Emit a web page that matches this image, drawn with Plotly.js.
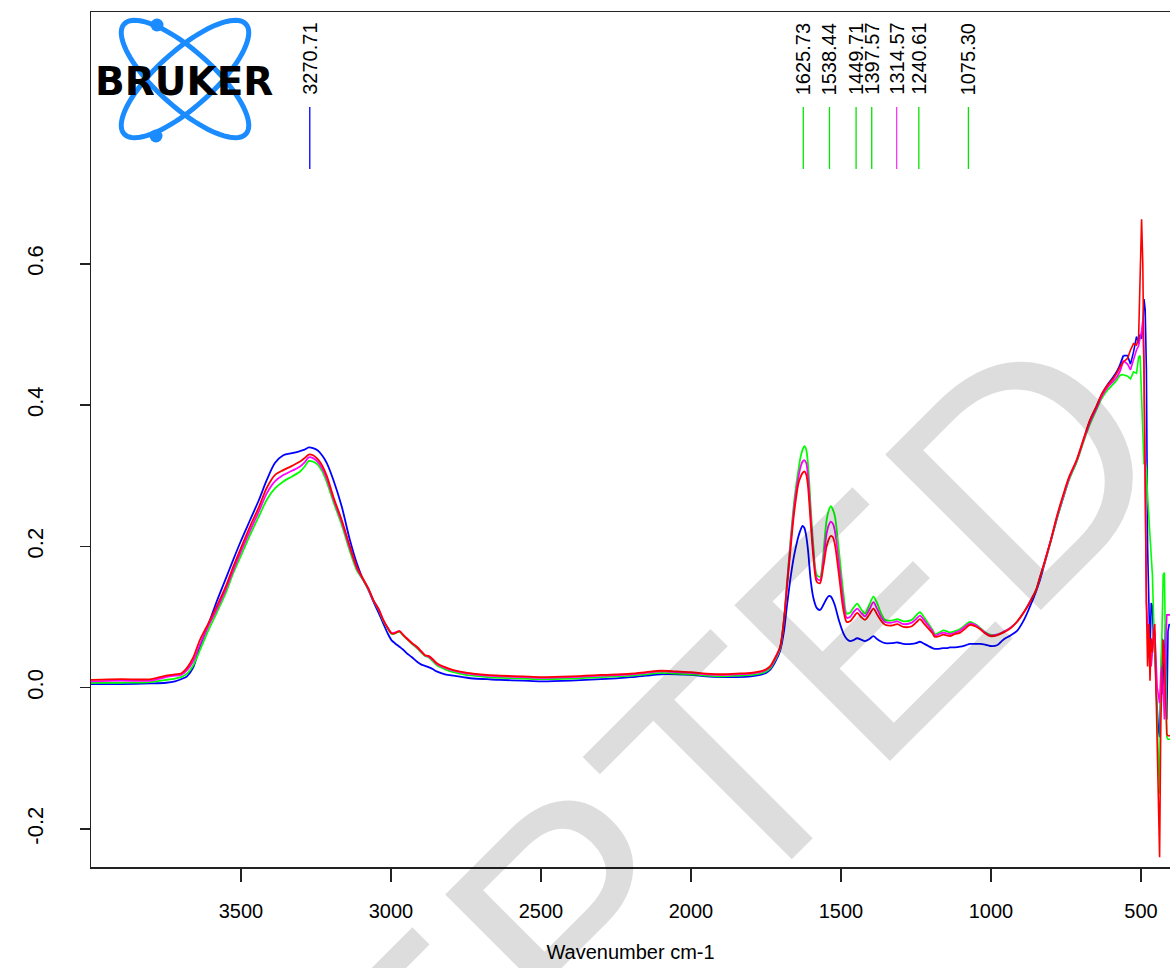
<!DOCTYPE html>
<html>
<head>
<meta charset="utf-8">
<script src="https://cdn.plot.ly/plotly-3.0.1.min.js"></script>
<style>html,body{margin:0;padding:0;background:#fff;}#chart{width:1170px;height:968px;}</style>
</head>
<body>
<div id="chart"></div>
<script>
// ---------- data ----------
const wnMain = [4000,3900,3800,3750,3720,3700,3680,3660,3637,3610,3581,3550,3526,3500,3470,3440,3414,3387,3359,3330,3303,3288,3274,3260,3245,3230,3214,3192,3164,3137,3114,3097,3075,3059,3040,3026,3010,2998,2987,2972,2960,2948,2930,2914,2900,2887,2875,2860,2848,2820,2792,2760,2726,2680,2637,2560,2500,2400,2300,2200,2150,2100,2050,2000,1950,1900,1850,1800,1770,1750,1735,1720,1703,1690,1681,1670,1659,1650,1642,1635,1628,1622,1616,1610,1601,1592,1581,1570,1559,1548,1540,1534,1527,1520,1506,1492,1481,1470,1460,1446,1433,1420,1405,1392,1380,1365,1353,1331,1312,1292,1264,1250,1237,1222,1209,1195,1187,1173,1159,1148,1137,1120,1103,1085,1070,1053,1037,1020,1003,980,959,935,914,890,870,850,837,820,803,780,760,740,714,690,670,648,630,610,592,580,570,559];

const blueMain = [0.005,0.005,0.006,0.007,0.009,0.012,0.016,0.028,0.058,0.088,0.122,0.155,0.181,0.208,0.237,0.266,0.294,0.318,0.329,0.332,0.335,0.337,0.340,0.339,0.336,0.329,0.318,0.294,0.256,0.209,0.176,0.157,0.138,0.122,0.105,0.091,0.076,0.067,0.063,0.058,0.054,0.049,0.043,0.037,0.033,0.031,0.029,0.026,0.023,0.019,0.017,0.015,0.013,0.012,0.011,0.010,0.009,0.010,0.012,0.015,0.017,0.019,0.019,0.018,0.016,0.015,0.015,0.016,0.018,0.021,0.026,0.036,0.052,0.080,0.113,0.150,0.181,0.200,0.214,0.223,0.229,0.226,0.215,0.195,0.152,0.127,0.113,0.110,0.117,0.126,0.130,0.129,0.124,0.116,0.094,0.077,0.069,0.066,0.067,0.070,0.068,0.066,0.069,0.073,0.069,0.065,0.063,0.063,0.064,0.062,0.062,0.063,0.065,0.062,0.059,0.056,0.055,0.055,0.056,0.056,0.057,0.057,0.058,0.060,0.062,0.062,0.062,0.061,0.059,0.060,0.068,0.074,0.080,0.096,0.115,0.136,0.152,0.178,0.204,0.240,0.268,0.295,0.321,0.352,0.378,0.398,0.416,0.430,0.440,0.448,0.457,0.470];

const greenMain = [0.007,0.007,0.008,0.011,0.013,0.015,0.020,0.031,0.053,0.080,0.106,0.135,0.162,0.187,0.216,0.243,0.266,0.282,0.292,0.299,0.306,0.313,0.321,0.320,0.316,0.307,0.291,0.263,0.230,0.193,0.166,0.155,0.139,0.124,0.109,0.095,0.083,0.076,0.077,0.079,0.074,0.069,0.062,0.056,0.050,0.045,0.043,0.037,0.032,0.026,0.022,0.019,0.017,0.015,0.014,0.013,0.012,0.013,0.015,0.017,0.019,0.021,0.020,0.019,0.017,0.016,0.017,0.018,0.020,0.023,0.028,0.039,0.055,0.098,0.143,0.200,0.252,0.285,0.308,0.326,0.337,0.342,0.337,0.316,0.256,0.200,0.160,0.157,0.190,0.237,0.252,0.257,0.252,0.242,0.190,0.134,0.105,0.106,0.112,0.119,0.111,0.105,0.118,0.129,0.120,0.104,0.096,0.095,0.097,0.094,0.096,0.102,0.107,0.099,0.091,0.082,0.076,0.078,0.081,0.080,0.078,0.080,0.083,0.089,0.093,0.090,0.085,0.079,0.075,0.075,0.079,0.085,0.093,0.107,0.122,0.138,0.156,0.179,0.204,0.240,0.268,0.294,0.320,0.350,0.373,0.394,0.410,0.422,0.430,0.436,0.442,0.443];

const magentaMain = [0.009,0.010,0.010,0.015,0.017,0.018,0.025,0.037,0.061,0.086,0.111,0.140,0.166,0.193,0.222,0.250,0.275,0.292,0.301,0.307,0.313,0.319,0.326,0.325,0.320,0.311,0.296,0.267,0.234,0.197,0.169,0.156,0.140,0.124,0.110,0.096,0.084,0.077,0.078,0.080,0.075,0.070,0.063,0.057,0.051,0.046,0.044,0.039,0.034,0.028,0.024,0.021,0.019,0.017,0.016,0.015,0.014,0.015,0.017,0.019,0.021,0.023,0.022,0.021,0.019,0.018,0.019,0.020,0.022,0.025,0.030,0.041,0.057,0.097,0.141,0.195,0.245,0.277,0.298,0.312,0.320,0.322,0.318,0.300,0.244,0.192,0.155,0.152,0.180,0.218,0.231,0.235,0.232,0.221,0.173,0.122,0.099,0.100,0.106,0.112,0.106,0.101,0.111,0.121,0.112,0.099,0.093,0.092,0.094,0.090,0.092,0.097,0.102,0.095,0.088,0.080,0.074,0.076,0.078,0.077,0.076,0.078,0.081,0.087,0.091,0.089,0.084,0.078,0.074,0.075,0.079,0.085,0.093,0.107,0.122,0.138,0.156,0.180,0.205,0.242,0.270,0.296,0.322,0.352,0.376,0.396,0.413,0.426,0.434,0.440,0.448,0.463];

const redMain = [0.011,0.012,0.012,0.017,0.019,0.020,0.028,0.042,0.0675,0.090,0.115,0.144,0.171,0.198,0.228,0.256,0.283,0.301,0.308,0.314,0.320,0.325,0.330,0.329,0.324,0.315,0.300,0.270,0.237,0.200,0.171,0.157,0.140,0.124,0.110,0.096,0.084,0.077,0.077,0.080,0.075,0.070,0.063,0.058,0.052,0.046,0.045,0.040,0.035,0.029,0.025,0.022,0.020,0.018,0.017,0.016,0.015,0.016,0.018,0.020,0.022,0.024,0.023,0.022,0.020,0.019,0.020,0.021,0.023,0.026,0.031,0.042,0.058,0.095,0.138,0.188,0.237,0.268,0.289,0.298,0.304,0.306,0.302,0.285,0.233,0.185,0.150,0.148,0.171,0.200,0.211,0.215,0.213,0.202,0.157,0.110,0.093,0.094,0.099,0.106,0.100,0.096,0.104,0.112,0.104,0.094,0.089,0.088,0.090,0.086,0.087,0.092,0.097,0.090,0.084,0.077,0.072,0.073,0.075,0.074,0.073,0.076,0.078,0.084,0.089,0.087,0.083,0.077,0.073,0.074,0.078,0.084,0.093,0.107,0.121,0.138,0.156,0.180,0.205,0.243,0.272,0.298,0.323,0.354,0.379,0.399,0.416,0.429,0.438,0.446,0.454,0.461];

// low-wavenumber (noisy) end of the spectra
const wnEdge = [559,545,535,525,515,508,503,498,494,490,486,482,478,474,470,466,462,458,454,450,446,442,438,434,430,426,422,418,414,410,406,403];
const blueEdge = [0.470,0.470,0.458,0.475,0.497,0.487,0.500,0.494,0.510,0.550,0.535,0.450,0.200,0.095,0.050,0.120,0.115,0.065,0.055,0.000,-0.030,-0.060,-0.070,0.020,0.070,-0.010,0.030,0.090,-0.045,0.080,0.090,0.088];
const greenEdge = [0.443,0.441,0.437,0.447,0.445,0.468,0.470,0.400,0.355,0.316,0.320,0.310,0.270,0.240,0.210,0.187,0.160,0.100,0.060,0.020,-0.050,-0.100,-0.150,0.000,0.090,0.160,0.163,0.050,-0.070,-0.073,-0.073,-0.073];
const magentaEdge = [0.463,0.458,0.450,0.465,0.478,0.484,0.495,0.505,0.520,0.450,0.280,0.120,0.085,0.075,0.060,0.030,0.055,0.070,0.080,0.035,0.000,-0.010,-0.022,0.020,0.030,0.000,-0.045,0.050,0.103,0.103,0.103,0.103];
const redEdge = [0.461,0.466,0.478,0.487,0.485,0.495,0.580,0.663,0.600,0.480,0.300,0.120,0.030,0.090,0.010,0.070,0.050,0.080,0.090,0.000,-0.100,-0.180,-0.240,-0.050,0.005,0.068,0.040,-0.024,-0.066,-0.068,-0.068,-0.068];

// picked peaks
const peakPositions = [3270.71,1625.73,1538.44,1449.71,1397.57,1314.57,1240.61,1075.30];
const peakLabels = ['3270.71','1625.73','1538.44','1449.71','1397.57','1314.57','1240.61','1075.30'];
const peakSeries = ['blue','green','green','green','green','magenta','green','green'];

// axes
const xTickVals = [3500,3000,2500,2000,1500,1000,500];
const xTickText = ['3500','3000','2500','2000','1500','1000','500'];
const yTickVals = [-0.2,0.0,0.2,0.4,0.6];
const yTickText = ['-0.2','0.0','0.2','0.4','0.6'];
const xTitle = 'Wavenumber cm-1';
const logoText = 'BRUKER';
const watermarkText = 'ACCEPTED';

// ---------- style ----------
const colors = {blue:'#0000ff', green:'#00ff00', magenta:'#ff00ff', red:'#ff0000'};
const peakLineColors = {blue:'#0000ff', green:'#00e600', magenta:'#ff33ff', red:'#ff0000'};
const series = [
  {key:'blue', main:blueMain, edge:blueEdge},
  {key:'green', main:greenMain, edge:greenEdge},
  {key:'magenta', main:magentaMain, edge:magentaEdge},
  {key:'red', main:redMain, edge:redEdge}
];
const W = 1170, H = 968, ML = 91, MR = 0, MT = 12, MB = 101;
const PW = W - ML - MR, PH = H - MT - MB;
const px = x => (x - ML) / PW;           // pixel -> paper x
const py = y => (H - MB - y) / PH;        // pixel -> paper y
const sansFont = "'Liberation Sans', Arial, sans-serif";

const traces = [];
series.forEach(s => {
  traces.push({x: wnMain, y: s.main, type:'scatter', mode:'lines',
    line:{color:colors[s.key], width:1.8, shape:'spline', smoothing:0.8}, hoverinfo:'skip'});
  traces.push({x: wnEdge, y: s.edge, type:'scatter', mode:'lines',
    line:{color:colors[s.key], width:1.6}, hoverinfo:'skip'});
});

const shapes = [];
const annotations = [];

// journal watermark (drawn first so it sits under other annotations)
annotations.push({xref:'paper', yref:'paper', x:px(491), y:py(1003), text:watermarkText, showarrow:false,
  textangle:-45, xanchor:'center', yanchor:'middle',
  font:{family:sansFont, size:320, color:'rgba(0,0,0,0.135)'}});

// peak marker lines and labels
peakPositions.forEach((p, i) => {
  shapes.push({type:'line', xref:'x', yref:'paper', x0:p, x1:p, y0:py(169), y1:py(107),
    line:{color:peakLineColors[peakSeries[i]], width:1.3}});
  annotations.push({xref:'x', yref:'paper', x:p, y:py(59), text:peakLabels[i], showarrow:false,
    textangle:-90, xanchor:'center', yanchor:'middle', font:{family:sansFont, size:20, color:'#000'}});
});

// Bruker logo (two crossed orbits + electrons)
function ellipsePath(a, b, angDeg) {
  const t = angDeg * Math.PI / 180;
  let d = '';
  for (let i = 0; i <= 90; i++) {
    const u = i / 90 * 2 * Math.PI;
    const ex = a * Math.cos(u), ey = b * Math.sin(u);
    const x = ex * Math.cos(t) - ey * Math.sin(t);
    const y = ex * Math.sin(t) + ey * Math.cos(t);
    d += (i ? 'L' : 'M') + x.toFixed(2) + ',' + y.toFixed(2);
  }
  return d + 'Z';
}
const logoBlue = '#1a8cff';
const logoCx = px(185), logoCy = py(79);
[42, -42].forEach(ang => {
  shapes.push({type:'path', xref:'paper', yref:'paper', xsizemode:'pixel', ysizemode:'pixel',
    xanchor:logoCx, yanchor:logoCy, path:ellipsePath(82, 28, ang),
    line:{color:logoBlue, width:5}, fillcolor:'rgba(0,0,0,0)'});
});
[[-28, 54], [-29, -57]].forEach(([dx, dy]) => {
  shapes.push({type:'circle', xref:'paper', yref:'paper', xsizemode:'pixel', ysizemode:'pixel',
    xanchor:logoCx, yanchor:logoCy, x0:dx-6.5, x1:dx+6.5, y0:dy-6.5, y1:dy+6.5,
    fillcolor:logoBlue, line:{color:logoBlue, width:0}});
});
annotations.push({xref:'paper', yref:'paper', x:px(184), y:py(81), text:'<b>'+logoText+'</b>', showarrow:false,
  xanchor:'center', yanchor:'middle', font:{family:"'DejaVu Sans', sans-serif", size:39, color:'#000'}});

const layout = {
  width:W, height:H,
  margin:{l:ML, r:MR, t:MT, b:MB, pad:0},
  paper_bgcolor:'#fff', plot_bgcolor:'#fff',
  showlegend:false,
  xaxis:{range:[4000, 4000 - PW/0.3], tickmode:'array', tickvals:xTickVals, ticktext:xTickText,
    ticks:'outside', ticklen:13, tickwidth:1.5, tickcolor:'#222',
    showline:true, linecolor:'#222', linewidth:1.5, mirror:true,
    showgrid:false, zeroline:false, automargin:false,
    tickfont:{family:sansFont, size:20, color:'#000'}, ticklabelstandoff:12,
    title:{text:xTitle, font:{family:sansFont, size:20, color:'#000'}, standoff:24}},
  yaxis:{range:[-0.2538, 0.9564], tickmode:'array', tickvals:yTickVals, ticktext:yTickText,
    ticks:'outside', ticklen:10, tickwidth:1.5, tickcolor:'#222', tickangle:-90,
    showline:true, linecolor:'#222', linewidth:1.5, mirror:false,
    showgrid:false, zeroline:false, automargin:false,
    tickfont:{family:sansFont, size:22, color:'#000'}, ticklabelstandoff:28},
  shapes:shapes,
  annotations:annotations
};

Plotly.newPlot('chart', traces, layout, {staticPlot:true, displayModeBar:false});
</script>
</body>
</html>
